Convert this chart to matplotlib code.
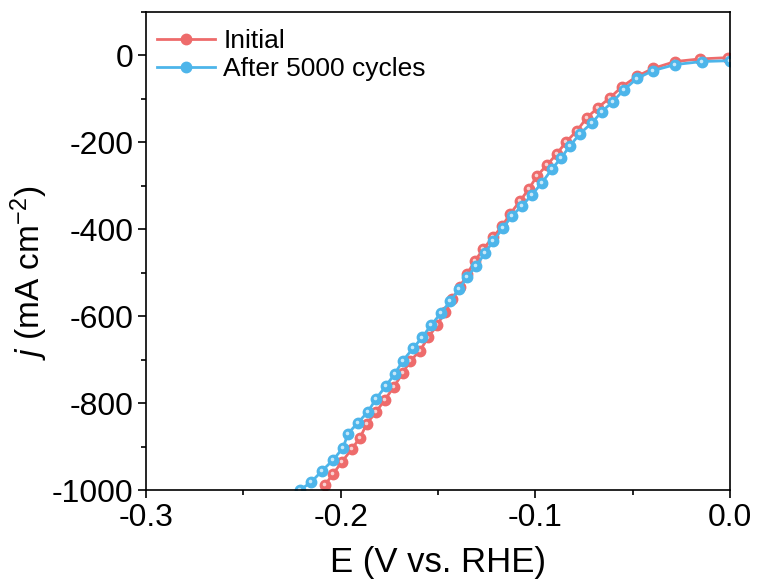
import matplotlib
matplotlib.use("Agg")
import matplotlib.pyplot as plt
from matplotlib.ticker import MultipleLocator
import matplotlib.transforms as mtransforms

plt.rcParams['font.family'] = ['Liberation Sans', 'DejaVu Sans']
plt.rcParams['mathtext.fontset'] = 'custom'
plt.rcParams['mathtext.rm'] = 'Liberation Sans'
plt.rcParams['mathtext.it'] = 'Liberation Sans:italic'
plt.rcParams['axes.unicode_minus'] = False

# ---- data ----
initial_E = [-0.2080, -0.2039, -0.1993, -0.1942, -0.1901, -0.1865, -0.1818, -0.1772,
             -0.1726, -0.1680, -0.1644, -0.1592, -0.1551, -0.1505, -0.1464, -0.1428,
             -0.1387, -0.1351, -0.1310, -0.1269, -0.1217, -0.1171, -0.1130, -0.1079,
             -0.1033, -0.0991, -0.0940, -0.0889, -0.0842, -0.0786, -0.0735, -0.0678,
             -0.0616, -0.0555, -0.0478, -0.0396, -0.0282, -0.0154, -0.0010]
initial_j = [-988, -963, -935, -905, -880, -847, -820, -792,
             -762, -730, -704, -679, -649, -621, -591, -561,
             -533, -503, -473, -446, -418, -393, -365, -335,
             -307, -277, -252, -226, -199, -173, -143, -120,
             -97, -72, -48, -30, -14, -8, -5]

after_E = [-0.2209, -0.2152, -0.2096, -0.2039, -0.1988, -0.1962, -0.1911, -0.1860,
           -0.1818, -0.1767, -0.1721, -0.1680, -0.1628, -0.1582, -0.1536, -0.1485,
           -0.1438, -0.1392, -0.1351, -0.1305, -0.1259, -0.1217, -0.1166, -0.1120,
           -0.1068, -0.1017, -0.0966, -0.0914, -0.0868, -0.0822, -0.0771, -0.0709,
           -0.0658, -0.0601, -0.0545, -0.0478, -0.0396, -0.0282, -0.0144, 0.0]
after_j = [-1000, -982, -956, -931, -903, -870, -845, -820,
           -790, -760, -732, -702, -674, -649, -621, -593,
           -566, -538, -510, -485, -455, -427, -397, -369,
           -346, -320, -293, -261, -236, -208, -180, -155,
           -129, -106, -79, -53, -35, -21, -14, -12]

series_labels = ["Initial", "After 5000 cycles"]
colors = ["#EE6B6B", "#4DB5EA"]

x_ticks = [-0.3, -0.2, -0.1, 0.0]
y_ticks = [0, -200, -400, -600, -800, -1000]

fig = plt.figure(figsize=(7.59, 5.87), dpi=100)
ax = fig.add_axes([146/759, 1-490/587, (730-146)/759, (490-12)/587])

hl = mtransforms.offset_copy(ax.transData, fig=fig, x=-0.7, y=0.7, units='points')
for E, j, c, lab in [(initial_E, initial_j, colors[0], series_labels[0]),
                     (after_E, after_j, colors[1], series_labels[1])]:
    ax.plot(E, j, '-o', color=c, lw=2.0, ms=7.5, mec=c, mfc=c, label=lab, clip_on=True)
    ax.plot(E, j, 'o', color='white', ms=2.6, mec='none', alpha=0.7, transform=hl)

ax.set_xlim(-0.3, 0.0)
ax.set_ylim(-1000, 100)
ax.set_xticks(x_ticks)
ax.set_xticklabels([f"{v:.1f}" for v in x_ticks])
ax.set_yticks(y_ticks)
ax.xaxis.set_minor_locator(MultipleLocator(0.05))
ax.yaxis.set_minor_locator(MultipleLocator(100))
ax.tick_params(which='major', direction='out', length=6, width=1.2, labelsize=23, pad=3)
ax.tick_params(which='minor', direction='out', length=3.5, width=1.2)
for s in ax.spines.values():
    s.set_linewidth(1.2)

ax.set_xlabel("E (V vs. RHE)", fontsize=25, labelpad=10)
ax.set_ylabel(r"$\it{j}$ (mA cm$^{-2}$)", fontsize=24)
ax.yaxis.set_label_coords(-0.165, 0.455)

leg = ax.legend(loc='upper left', bbox_to_anchor=(-0.01, 1.0), frameon=False,
                fontsize=19, handlelength=2.2, handletextpad=0.3, labelspacing=0.15,
                borderaxespad=0.25)

fig.savefig("out.png", dpi=100)
